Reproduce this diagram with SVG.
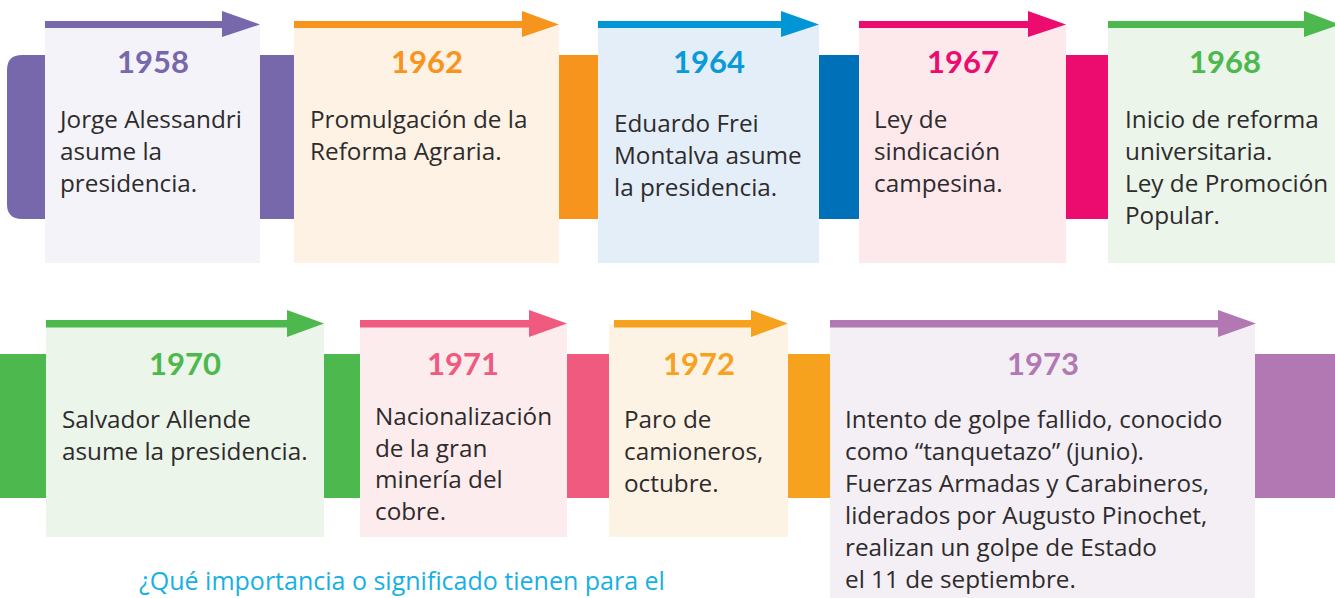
<svg xmlns="http://www.w3.org/2000/svg" width="1335" height="598" viewBox="0 0 1335 598">
<style>
.yr{font-family:Lato,"Open Sans","Liberation Sans",sans-serif;font-weight:bold;font-size:31px;text-anchor:middle}
.tx{font-family:"Open Sans",Lato,"Liberation Sans",sans-serif;font-size:24.3px;fill:#2e2b2c}
.q{font-family:"Open Sans",Lato,"Liberation Sans",sans-serif;font-size:25px;fill:#17b0e4}
</style>
<rect width="1335" height="598" fill="#ffffff"/>
<g id="bands">
<path d="M22,55 H294 V219 H22 Q7,219 7,204 V70 Q7,55 22,55 Z" fill="#7668ab"/>
<rect x="559" y="55" width="39" height="164" fill="#f7941d"/>
<rect x="819" y="55" width="40" height="164" fill="#0071b9"/>
<rect x="1066" y="55" width="42" height="164" fill="#ec0b6e"/>
<rect x="0" y="354" width="360" height="144" fill="#4cb84d"/>
<rect x="567" y="354" width="42" height="144" fill="#ef5a7e"/>
<rect x="788" y="354" width="42" height="144" fill="#f6a21e"/>
<rect x="1255" y="354" width="80" height="144" fill="#b178b3"/>
</g>
<g id="n1958">
<rect x="45" y="24" width="215" height="239" fill="#f4f3f9"/>
<rect x="45" y="21" width="180" height="7" fill="#7668ab"/>
<polygon points="222,11 260,24.5 222,37" fill="#7668ab"/>
<text class="yr" x="153" y="73" fill="#7668ab">1958</text>
<text class="tx" x="60" y="128">Jorge Alessandri</text>
<text class="tx" x="60" y="160">asume la</text>
<text class="tx" x="60" y="192">presidencia.</text>
</g>
<g id="n1962">
<rect x="294" y="24" width="265" height="239" fill="#fdf2e4"/>
<rect x="294" y="21" width="231" height="7" fill="#f7941d"/>
<polygon points="522,11 559,24.5 522,37" fill="#f7941d"/>
<text class="yr" x="427" y="73" fill="#f7941d">1962</text>
<text class="tx" x="310" y="128">Promulgación de la</text>
<text class="tx" x="310" y="160">Reforma Agraria.</text>
</g>
<g id="n1964">
<rect x="598" y="24" width="221" height="239" fill="#e3eef8"/>
<rect x="598" y="21" width="186" height="7" fill="#0096d6"/>
<polygon points="781,11 819,24.5 781,37" fill="#0096d6"/>
<text class="yr" x="709" y="73" fill="#0a9ad8">1964</text>
<text class="tx" x="614" y="132">Eduardo Frei</text>
<text class="tx" x="614" y="164">Montalva asume</text>
<text class="tx" x="614" y="196">la presidencia.</text>
</g>
<g id="n1967">
<rect x="859" y="24" width="207" height="239" fill="#fde8ec"/>
<rect x="859" y="21" width="172" height="7" fill="#ec0b6e"/>
<polygon points="1028,11 1066,24.5 1028,37" fill="#ec0b6e"/>
<text class="yr" x="963" y="73" fill="#ec0b6e">1967</text>
<text class="tx" x="874" y="128">Ley de</text>
<text class="tx" x="874" y="160">sindicación</text>
<text class="tx" x="874" y="192">campesina.</text>
</g>
<g id="n1968">
<rect x="1108" y="24" width="227" height="239" fill="#ebf5ea"/>
<rect x="1108" y="21" width="199" height="7" fill="#4cb84d"/>
<polygon points="1304,11 1340,24.5 1304,37" fill="#4cb84d"/>
<text class="yr" x="1225" y="73" fill="#4cb84d">1968</text>
<text class="tx" x="1125" y="128">Inicio de reforma</text>
<text class="tx" x="1125" y="160">universitaria.</text>
<text class="tx" x="1125" y="192">Ley de Promoción</text>
<text class="tx" x="1125" y="224">Popular.</text>
</g>
<g id="n1970">
<rect x="46" y="324" width="278" height="213" fill="#ebf5ea"/>
<rect x="46" y="320" width="244" height="7.5" fill="#4cb84d"/>
<polygon points="287,310 324,323.5 287,337" fill="#4cb84d"/>
<text class="yr" x="185" y="375" fill="#4cb84d">1970</text>
<text class="tx" x="62" y="428">Salvador Allende</text>
<text class="tx" x="62" y="460">asume la presidencia.</text>
</g>
<g id="n1971">
<rect x="360" y="324" width="207" height="213" fill="#fdeced"/>
<rect x="360" y="320" width="172" height="7.5" fill="#ef5a7e"/>
<polygon points="529,310 567,323.5 529,337" fill="#ef5a7e"/>
<text class="yr" x="463" y="375" fill="#ef5a7e">1971</text>
<text class="tx" x="375" y="425">Nacionalización</text>
<text class="tx" x="375" y="457">de la gran</text>
<text class="tx" x="375" y="488">minería del</text>
<text class="tx" x="375" y="520">cobre.</text>
</g>
<g id="n1972">
<rect x="609" y="324" width="179" height="213" fill="#fdf3e5"/>
<rect x="614" y="320" width="140" height="7.5" fill="#f6a21e"/>
<polygon points="751,310 788,323.5 751,337" fill="#f6a21e"/>
<text class="yr" x="699" y="375" fill="#f6a21e">1972</text>
<text class="tx" x="624" y="428">Paro de</text>
<text class="tx" x="624" y="460">camioneros,</text>
<text class="tx" x="624" y="492">octubre.</text>
</g>
<g id="n1973">
<rect x="830" y="324" width="425" height="274" fill="#f3eff5"/>
<rect x="830" y="320" width="391" height="7.5" fill="#b178b3"/>
<polygon points="1218,310 1256,323.5 1218,337" fill="#b178b3"/>
<text class="yr" x="1043" y="375" fill="#b178b3">1973</text>
<text class="tx" x="845" y="428">Intento de golpe fallido, conocido</text>
<text class="tx" x="845" y="460">como “tanquetazo” (junio).</text>
<text class="tx" x="845" y="492">Fuerzas Armadas y Carabineros,</text>
<text class="tx" x="845" y="524">liderados por Augusto Pinochet,</text>
<text class="tx" x="845" y="556">realizan un golpe de Estado</text>
<text class="tx" x="845" y="588">el 11 de septiembre.</text>
</g>
<text class="q" x="139" y="590">¿Qué importancia o significado tienen para el</text>
</svg>
